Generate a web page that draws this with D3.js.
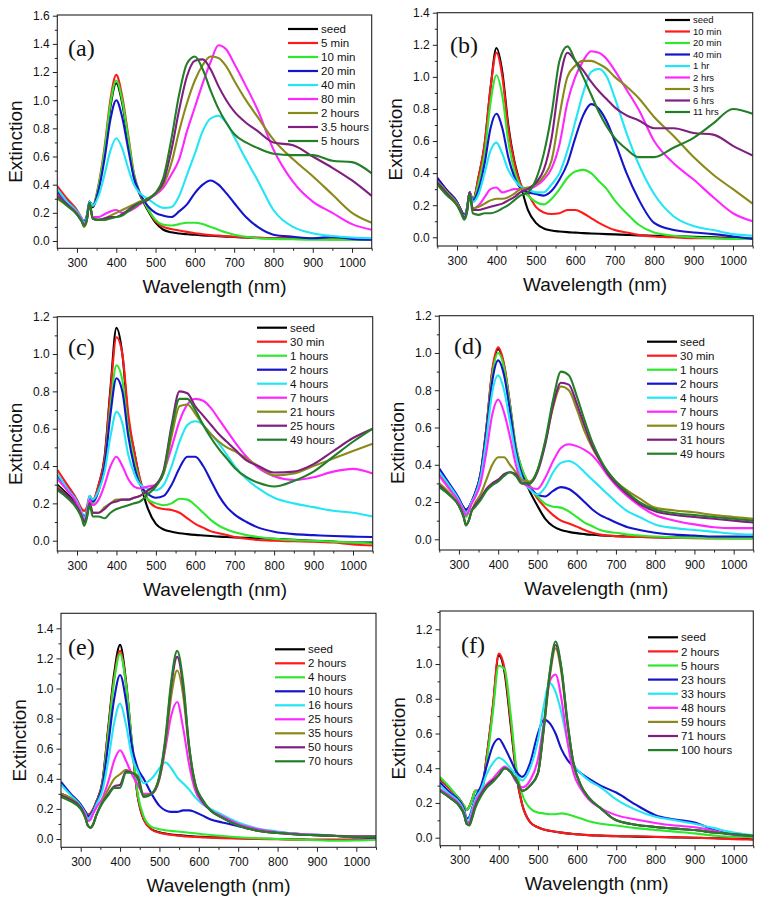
<!DOCTYPE html>
<html><head><meta charset="utf-8">
<script src="https://cdn.jsdelivr.net/npm/d3@7"></script>
<style>body{margin:0;background:#fff}</style>
</head><body>
<svg id="chart" width="761" height="900"></svg>
<script>
// ---------- shared axes data ----------
const gridA = [250,275,300,312,318,325,332,340, 355,370,385,400,415,430,445,460,480, 500,520,540,560,580,600,620,640,660,680, 700,730,760,800,850,900,950,1000,1050];
const gridB = [250,275,300,312,318,325,332,340, 355,370,385,400,415,430,445,460,480, 500,515,530,545,560,575,590,610,630,660, 700,750,800,850,900,950,1000,1050];
const xTicks = [300,400,500,600,700,800,900,1000];
const xMinor = [250,350,450,550,650,750,850,950,1050];
const colors = ["#000000","#ff1a1a","#2ee82e","#1414cc","#22e6f5","#ff26ff","#8a8a1a","#7f1f7f","#227f27"];

// ---------- panel (a) ----------
const aLabels = ["seed","5 min","10 min","20 min","40 min","80 min","2 hours","3.5 hours","5 hours"];
const aYTicks = [0,0.2,0.4,0.6,0.8,1.0,1.2,1.4,1.6];
const a_seed = [.34,.27,.2,.15,.12,.16,.27,.24, .38,.62,.95,1.12,.98,.72,.45,.33,.22, .13,.08,.062,.053,.048,.044,.04,.037,.034,.031, .028,.025,.022,.02,.018,.015,.013,.012,.01];
const a_5min = [.39,.3,.22,.16,.13,.17,.28,.25, .4,.66,1.0,1.18,1.03,.76,.48,.34,.23, .14,.1,.085,.075,.065,.055,.048,.042,.038,.034, .03,.026,.023,.02,.018,.016,.014,.012,.01];
const a_10min = [.36,.28,.21,.15,.12,.16,.28,.25, .39,.64,.97,1.14,1.0,.74,.47,.34,.23, .15,.115,.11,.12,.13,.13,.12,.1,.08,.06, .045,.03,.02,.015,.012,.01,.01,.01,.01];
const a_20min = [.36,.28,.21,.16,.14,.18,.28,.25, .36,.58,.86,1.0,.88,.66,.45,.34,.25, .2,.18,.17,.21,.26,.34,.4,.43,.4,.34, .27,.17,.1,.045,.03,.02,.028,.015,.01];
const a_40min = [.37,.28,.21,.16,.13,.17,.28,.25, .32,.47,.64,.73,.66,.52,.4,.34,.3, .26,.235,.24,.32,.47,.62,.78,.87,.89,.84, .74,.58,.43,.22,.1,.055,.035,.025,.02];
const a_80min = [.33,.26,.2,.15,.12,.15,.27,.17, .17,.19,.21,.22,.2,.21,.23,.26,.3, .33,.38,.47,.58,.78,.95,1.12,1.27,1.39,1.36, 1.26,1.1,.93,.65,.42,.28,.2,.12,.08];
const a_2h = [.3,.25,.19,.14,.1,.14,.27,.16, .15,.16,.18,.2,.22,.24,.26,.28,.3, .34,.4,.55,.78,.98,1.14,1.25,1.31,1.3,1.24, 1.14,1.0,.88,.72,.58,.46,.33,.2,.13];
const a_3_5h = [.32,.26,.19,.14,.11,.15,.27,.16, .15,.16,.17,.17,.19,.22,.25,.27,.29, .34,.42,.64,.93,1.17,1.28,1.29,1.22,1.1,1.0, .92,.84,.78,.7,.68,.6,.52,.43,.32];
const a_5h = [.31,.25,.19,.14,.11,.15,.27,.16, .15,.15,.16,.17,.18,.21,.24,.27,.3, .34,.45,.72,1.04,1.26,1.31,1.22,1.07,.94,.84, .76,.7,.66,.62,.61,.61,.57,.56,.48];

// ---------- panel (b) ----------
const bLabels = ["seed","10 min","20 min","40 min","1 hr","2 hrs","3 hrs","6 hrs","11 hrs"];
const bYTicks = [0,0.2,0.4,0.6,0.8,1.0,1.2,1.4];
const b_seed = [.36,.29,.22,.16,.13,.17,.28,.23, .38,.58,.93,1.18,1.03,.7,.48,.34,.17, .09,.055,.042,.036,.032,.029,.026,.024,.022,.02, .018,.015,.012,.01,.006,.003,0,-.004,-.008];
const b_10min = [.37,.29,.22,.16,.13,.17,.28,.23, .38,.58,.93,1.15,1.0,.68,.47,.34,.27, .19,.155,.145,.15,.17,.17,.15,.12,.09,.065, .045,.03,.015,.005,0,-.005,-.005,-.01,-.01];
const b_20min = [.36,.28,.21,.16,.13,.17,.28,.23, .34,.52,.84,1.01,.88,.6,.42,.32,.26, .22,.205,.24,.3,.37,.41,.42,.4,.35,.3, .23,.15,.08,.03,.01,0,-.005,-.01,-.01];
const b_40min = [.37,.29,.22,.16,.14,.18,.28,.23, .3,.46,.68,.77,.68,.5,.38,.31,.28, .27,.26,.29,.36,.46,.62,.76,.83,.8,.72, .6,.4,.24,.09,.045,.03,.02,.005,-.01];
const b_1hr = [.35,.28,.21,.15,.13,.17,.28,.22, .27,.4,.54,.59,.52,.42,.36,.32,.3, .28,.28,.33,.4,.54,.72,.9,1.03,1.05,1.0, .87,.65,.46,.27,.13,.07,.045,.02,.01];
const b_2hrs = [.34,.27,.21,.15,.12,.16,.28,.18, .2,.25,.3,.31,.28,.29,.3,.3,.3, .32,.36,.43,.58,.84,1.0,1.1,1.16,1.15,1.11, 1.04,.92,.8,.6,.46,.36,.25,.15,.1];
const b_3hrs = [.35,.28,.21,.15,.12,.16,.28,.18, .19,.21,.23,.24,.24,.25,.27,.3,.31, .33,.38,.48,.76,1.0,1.07,1.1,1.1,1.08,1.05, 1.0,.94,.87,.75,.63,.5,.39,.3,.21];
const b_6hrs = [.34,.27,.2,.15,.12,.16,.28,.17, .17,.18,.19,.2,.21,.23,.25,.28,.3, .34,.42,.62,.97,1.15,1.1,1.04,.97,.91,.86, .81,.76,.73,.68,.68,.65,.64,.57,.51];
const b_11hrs = [.33,.26,.2,.14,.11,.15,.27,.15, .14,.15,.15,.16,.18,.2,.23,.26,.28, .36,.52,.77,1.1,1.19,1.1,1.0,.89,.78,.69, .62,.55,.5,.5,.56,.62,.71,.8,.77];

// ---------- panel (c) ----------
const cLabels = ["seed","30 min","1 hours","2 hours","4 hours","7 hours","21 hours","25 hours","49 hours"];
const cYTicks = [0,0.2,0.4,0.6,0.8,1.0,1.2];
const c_seed = [.3,.25,.19,.14,.12,.15,.22,.21, .3,.45,.82,1.14,1.0,.65,.48,.32,.17, .09,.06,.048,.04,.035,.031,.028,.025,.022,.02, .018,.015,.013,.01,.005,0,-.005,-.01,-.01];
const c_30min = [.38,.3,.22,.17,.16,.18,.24,.22, .3,.44,.8,1.09,1.0,.68,.48,.33,.22, .18,.17,.165,.15,.12,.09,.07,.05,.04,.03, .02,.01,.004,0,-.003,-.005,-.01,-.02,-.025];
const c_1h = [.28,.24,.18,.13,.1,.14,.22,.2, .27,.4,.72,.94,.86,.6,.43,.31,.22, .2,.19,.2,.225,.22,.19,.15,.11,.08,.06, .045,.03,.02,.01,.003,0,-.005,-.01,-.015];
const c_2h = [.35,.28,.21,.15,.13,.16,.23,.21, .27,.4,.68,.87,.8,.56,.4,.3,.25, .23,.24,.3,.39,.45,.45,.4,.32,.24,.18, .14,.1,.07,.048,.035,.03,.025,.022,.02];
const c_4h = [.36,.28,.21,.15,.12,.16,.24,.22, .27,.37,.56,.69,.63,.46,.36,.3,.28, .27,.3,.4,.53,.62,.64,.62,.57,.52,.46, .4,.33,.28,.23,.2,.18,.16,.15,.13];
const c_7h = [.33,.27,.2,.14,.11,.14,.22,.19, .22,.3,.4,.45,.4,.33,.29,.28,.29, .3,.37,.5,.64,.73,.76,.75,.71,.65,.59, .53,.45,.39,.345,.325,.34,.37,.385,.36];
const c_21h = [.29,.24,.18,.13,.1,.13,.2,.15, .15,.18,.2,.22,.22,.22,.23,.24,.27, .3,.36,.56,.72,.73,.68,.62,.57,.53,.5, .48,.44,.4,.35,.36,.4,.44,.48,.52];
const c_25h = [.28,.24,.18,.13,.1,.13,.2,.15, .15,.17,.2,.21,.22,.22,.23,.24,.27, .3,.38,.62,.8,.79,.72,.67,.62,.57,.53, .49,.43,.4,.365,.37,.41,.48,.55,.6];
const c_49h = [.27,.23,.17,.12,.08,.12,.19,.13, .13,.12,.15,.17,.18,.19,.2,.21,.25, .29,.37,.6,.76,.76,.7,.62,.55,.49,.44, .39,.34,.31,.29,.32,.37,.45,.53,.6];

// ---------- panel (d) ----------
const dLabels = ["seed","30 min","1 hours","2 hours","4 hours","7 hours","19 hours","31 hours","49 hours"];
const dYTicks = [0,0.2,0.4,0.6,0.8,1.0,1.2];
const d_seed = [.35,.28,.21,.17,.15,.17,.2,.24, .35,.6,.9,1.02,.93,.72,.48,.36,.26, .18,.11,.07,.05,.04,.033,.028,.024,.021,.019, .017,.015,.013,.011,.01,.01,.01,.01,.01];
const d_30min = [.35,.28,.21,.17,.15,.17,.2,.24, .35,.6,.91,1.03,.94,.73,.5,.38,.29, .22,.17,.13,.1,.085,.068,.05,.035,.025,.02, .017,.014,.012,.01,.008,.006,.005,.005,.005];
const d_1h = [.28,.24,.19,.15,.12,.15,.19,.23, .34,.58,.88,1.0,.92,.72,.5,.38,.29, .23,.19,.175,.17,.15,.12,.09,.07,.05,.04, .035,.025,.02,.015,.01,.008,.006,.005,.005];
const d_2h = [.38,.3,.22,.17,.16,.17,.2,.24, .35,.58,.85,.96,.88,.69,.48,.35,.28, .24,.23,.26,.28,.27,.24,.2,.16,.13,.11, .09,.065,.05,.035,.025,.02,.015,.015,.015];
const d_4h = [.36,.29,.21,.16,.14,.16,.2,.23, .33,.54,.79,.88,.8,.63,.45,.33,.27, .24,.28,.36,.41,.42,.4,.36,.32,.28,.24, .2,.15,.12,.08,.06,.05,.04,.03,.025];
const d_7h = [.34,.27,.2,.15,.13,.15,.19,.22, .3,.47,.67,.75,.68,.55,.4,.31,.28, .27,.33,.42,.49,.51,.5,.48,.45,.4,.34, .29,.23,.18,.13,.1,.08,.065,.06,.06];
const d_19h = [.3,.25,.18,.12,.08,.1,.15,.19, .24,.32,.4,.44,.44,.4,.36,.32,.31, .37,.52,.71,.82,.8,.7,.58,.49,.42,.36, .31,.26,.22,.17,.155,.145,.13,.12,.11];
const d_31h = [.29,.24,.18,.12,.075,.1,.15,.18, .22,.27,.3,.32,.35,.36,.35,.3,.3, .36,.51,.72,.84,.83,.73,.61,.5,.42,.35, .3,.24,.19,.15,.13,.12,.11,.1,.09];
const d_49h = [.28,.24,.18,.12,.075,.1,.15,.17, .21,.26,.29,.31,.34,.36,.34,.3,.3, .37,.53,.75,.9,.88,.77,.64,.52,.43,.36, .31,.25,.2,.16,.14,.13,.12,.11,.1];

// ---------- panel (e) ----------
const eLabels = ["seed","2 hours","4 hours","10 hours","16 hours","25 hours","35 hours","50 hours","70 hours"];
const eYTicks = [0,0.2,0.4,0.6,0.8,1.0,1.2,1.4];
const e_seed = [.3,.27,.22,.18,.16,.17,.2,.25, .38,.74,1.1,1.29,1.05,.64,.28,.13,.065, .045,.036,.03,.026,.023,.02,.017,.014,.012,.01, .006,.002,0,-.003,-.005,-.005,-.005,0];
const e_2h = [.3,.27,.22,.18,.16,.17,.2,.25, .37,.72,1.07,1.25,1.03,.63,.28,.13,.063, .042,.034,.028,.023,.019,.016,.013,.011,.009,.006, .003,0,-.002,-.004,-.005,-.005,-.005,0];
const e_4h = [.28,.25,.21,.17,.15,.16,.19,.24, .36,.7,1.05,1.23,1.03,.65,.3,.15,.08, .065,.058,.054,.05,.046,.042,.038,.032,.027,.02, .012,.005,0,-.005,-.008,-.012,-.01,-.005];
const e_10h = [.38,.3,.23,.18,.15,.16,.19,.24, .35,.63,.93,1.09,.92,.62,.47,.4,.3, .22,.19,.18,.18,.19,.19,.18,.155,.13,.11, .085,.06,.045,.035,.025,.02,.01,.01];
const e_16h = [.36,.29,.22,.17,.13,.15,.18,.23, .32,.52,.77,.9,.76,.55,.45,.37,.4, .47,.51,.47,.41,.37,.33,.28,.23,.2,.16, .11,.07,.05,.035,.03,.02,.015,.02];
const e_25h = [.29,.26,.21,.16,.12,.13,.17,.21, .27,.38,.52,.59,.52,.43,.36,.3,.3, .4,.6,.82,.91,.74,.5,.33,.24,.19,.15, .1,.065,.045,.035,.028,.022,.02,.02];
const e_35h = [.3,.27,.21,.14,.09,.075,.1,.16, .25,.33,.4,.43,.46,.44,.42,.29,.3, .4,.62,.95,1.12,.96,.6,.36,.25,.19,.14, .09,.055,.04,.03,.025,.02,.015,.015];
const e_50h = [.29,.26,.21,.14,.09,.075,.1,.16, .24,.3,.35,.36,.45,.44,.41,.28,.3, .41,.65,1.02,1.21,1.02,.62,.37,.25,.19,.14, .09,.055,.04,.03,.025,.02,.015,.015];
const e_70h = [.28,.25,.2,.14,.09,.075,.1,.16, .24,.29,.34,.34,.44,.44,.4,.28,.3, .42,.67,1.05,1.25,1.05,.63,.38,.26,.19,.14, .09,.055,.04,.03,.025,.02,.015,.015];

// ---------- panel (f) ----------
const fLabels = ["seed","2 hours","5 hours","23 hours","33 hours","48 hours","59 hours","71 hours","100 hours"];
const fYTicks = [0,0.2,0.4,0.6,0.8,1.0,1.2];
const f_seed = [.34,.28,.22,.18,.16,.18,.22,.27, .27,.48,.75,1.05,.95,.66,.36,.19,.09, .06,.047,.04,.034,.029,.025,.021,.018,.015,.012, .008,.006,.004,.002,0,-.003,-.005,-.01];
const f_2h = [.34,.28,.22,.18,.16,.18,.22,.27, .27,.48,.76,1.06,.97,.68,.37,.19,.09, .06,.047,.04,.034,.029,.025,.021,.018,.015,.012, .01,.008,.005,.003,0,-.003,-.008,-.01];
const f_5h = [.35,.29,.22,.18,.16,.18,.22,.27, .26,.45,.72,.99,.97,.72,.4,.25,.17, .145,.14,.135,.135,.14,.135,.125,.11,.095,.08, .07,.055,.045,.035,.025,.012,.005,.005];
const f_23h = [.32,.26,.21,.16,.11,.12,.17,.23, .3,.42,.53,.57,.52,.45,.38,.35,.43, .6,.68,.66,.6,.51,.45,.41,.37,.34,.3, .26,.19,.13,.105,.088,.045,.02,.015];
const f_33h = [.3,.25,.2,.15,.1,.11,.16,.22, .28,.37,.43,.46,.44,.4,.36,.33,.4, .56,.76,.89,.84,.72,.56,.43,.37,.33,.29, .22,.16,.12,.1,.08,.055,.03,.015];
const f_48h = [.28,.24,.19,.14,.09,.09,.14,.2, .26,.31,.34,.38,.41,.38,.32,.29,.33, .45,.66,.9,.94,.8,.56,.38,.28,.22,.17, .13,.105,.085,.07,.06,.04,.015,.01];
const f_59h = [.27,.23,.18,.13,.08,.075,.12,.18, .25,.3,.33,.36,.4,.38,.33,.27,.3, .37,.62,.92,1.09,.95,.66,.43,.3,.23,.17, .1,.075,.062,.052,.044,.03,.02,.01];
const f_71h = [.27,.23,.18,.13,.08,.075,.12,.18, .25,.3,.33,.36,.4,.38,.33,.27,.3, .37,.63,.94,1.11,.97,.67,.44,.3,.23,.17, .1,.075,.062,.052,.044,.03,.02,.01];
const f_100h = [.27,.23,.18,.13,.08,.07,.11,.17, .24,.29,.32,.36,.4,.38,.33,.27,.3, .37,.64,.95,1.13,.98,.68,.44,.3,.23,.17, .1,.075,.062,.052,.044,.03,.02,.01];

// ---------- layout ----------
const panels = [
  {id:"a", grid:gridA, labels:aLabels, ticks:aYTicks, series:[a_seed,a_5min,a_10min,a_20min,a_40min,a_80min,a_2h,a_3_5h,a_5h],
   l:57.3, r:371.7, t:15, b:248.3, zero:241, top:15.7, topVal:1.6, tag:[68,56], leg:{x:288,y:29,dy:14,fs:11.5,len:30}},
  {id:"b", grid:gridA, labels:bLabels, ticks:bYTicks, series:[b_seed,b_10min,b_20min,b_40min,b_1hr,b_2hrs,b_3hrs,b_6hrs,b_11hrs],
   l:437.3, r:752.7, t:12.7, b:246, zero:237.3, top:12.7, topVal:1.4, tag:[450,53], leg:{x:665,y:20,dy:11.5,fs:9.5,len:25}},
  {id:"c", grid:gridA, labels:cLabels, ticks:cYTicks, series:[c_seed,c_30min,c_1h,c_2h,c_4h,c_7h,c_21h,c_25h,c_49h],
   l:57.3, r:372.7, t:316.7, b:551, zero:540.7, top:316.7, topVal:1.2, tag:[68,355], leg:{x:257,y:327.7,dy:14,fs:11.5,len:30}},
  {id:"d", grid:gridA, labels:dLabels, ticks:dYTicks, series:[d_seed,d_30min,d_1h,d_2h,d_4h,d_7h,d_19h,d_31h,d_49h],
   l:439.3, r:753.3, t:315.7, b:550, zero:539.3, top:315.7, topVal:1.2, tag:[454,354], leg:{x:647,y:341.7,dy:14,fs:11.5,len:30}},
  {id:"e", grid:gridB, labels:eLabels, ticks:eYTicks, series:[e_seed,e_2h,e_4h,e_10h,e_16h,e_25h,e_35h,e_50h,e_70h],
   l:61, r:376, t:613.3, b:847.3, zero:839, top:628.3, topVal:1.4, tag:[68,655], leg:{x:275,y:649.3,dy:14,fs:11.5,len:30}},
  {id:"f", grid:gridB, labels:fLabels, ticks:fYTicks, series:[f_seed,f_2h,f_5h,f_23h,f_33h,f_48h,f_59h,f_71h,f_100h],
   l:440, r:753.3, t:611, b:845.7, zero:837.7, top:629.3, topVal:1.2, tag:[461,653], leg:{x:648,y:637.3,dy:14.1,fs:11.5,len:30}}
];

const SANS = "'Liberation Sans', Arial, Helvetica, sans-serif";
const svg = d3.select("#chart");
const defs = svg.append("defs");

panels.forEach(p => {
  const x = d3.scaleLinear().domain([250,1050]).range([p.l, p.r]);
  const y = d3.scaleLinear().domain([0, p.topVal]).range([p.zero, p.top]);
  const yTopVal = y.invert(p.t);
  const g = svg.append("g");

  defs.append("clipPath").attr("id","clip"+p.id).append("rect")
    .attr("x",p.l).attr("y",p.t).attr("width",p.r-p.l).attr("height",p.b-p.t);

  // curves
  const line = d3.line().x(d=>x(d[0])).y(d=>y(d[1])).curve(d3.curveMonotoneX);
  const cg = g.append("g").attr("clip-path",`url(#clip${p.id})`);
  p.series.forEach((s,k) => {
    const pts = p.grid.map((w,j)=>[w, s[j]]).filter(d=>d[1]!==undefined);
    cg.append("path").attr("d", line(pts)).attr("fill","none")
      .attr("stroke", colors[k]).attr("stroke-width",2.1).attr("stroke-linejoin","round");
  });

  // x axis
  const gx = g.append("g").attr("transform",`translate(0,${p.b})`)
    .call(d3.axisBottom(x).tickValues(xTicks).tickFormat(d3.format("d")).tickSize(4.5).tickSizeOuter(0).tickPadding(5.5));
  g.append("g").attr("transform",`translate(0,${p.b})`)
    .call(d3.axisBottom(x).tickValues(xMinor).tickSize(2.5).tickSizeOuter(0).tickFormat(""));
  // y axis
  const gy = g.append("g").attr("transform",`translate(${p.l},0)`)
    .call(d3.axisLeft(y).tickValues(p.ticks).tickFormat(d3.format(".1f")).tickSize(4.5).tickSizeOuter(0).tickPadding(3));
  const yMinor = p.ticks.slice(0,-1).map(v=>v+0.1);
  if (p.ticks[p.ticks.length-1] + 0.1 < yTopVal - 0.005) yMinor.push(p.ticks[p.ticks.length-1]+0.1);
  g.append("g").attr("transform",`translate(${p.l},0)`)
    .call(d3.axisLeft(y).tickValues(yMinor).tickSize(2.5).tickSizeOuter(0).tickFormat(""));
  [gx, gy].forEach(a => a.attr("font-size",12).attr("font-family",SANS).selectAll("text").attr("fill","#111"));
  g.selectAll(".domain").attr("stroke","none");
  g.selectAll(".tick line").attr("stroke","#222").attr("stroke-width",1);

  // frame
  g.append("rect").attr("x",p.l).attr("y",p.t).attr("width",p.r-p.l).attr("height",p.b-p.t)
    .attr("fill","none").attr("stroke","#222").attr("stroke-width",1.1);

  // titles
  g.append("text").attr("x",(p.l+p.r)/2).attr("y",p.b+44.5).attr("text-anchor","middle")
    .attr("font-family",SANS).attr("font-size",19).attr("fill","#111").text("Wavelength (nm)");
  g.append("text").attr("transform",`translate(${p.l-42},${(p.t+p.b)/2+10}) rotate(-90)`)
    .attr("text-anchor","middle").attr("dy","0.35em")
    .attr("font-family",SANS).attr("font-size",19).attr("fill","#111").text("Extinction");
  g.append("text").attr("x",p.tag[0]).attr("y",p.tag[1])
    .attr("font-family","'Liberation Serif', 'Times New Roman', serif").attr("font-size",24).attr("fill","#111")
    .text(`(${p.id})`);

  // legend
  const L = p.leg;
  p.labels.forEach((lab,k) => {
    const yy = L.y + k*L.dy;
    g.append("line").attr("x1",L.x).attr("x2",L.x+L.len).attr("y1",yy).attr("y2",yy)
      .attr("stroke",colors[k]).attr("stroke-width",2.2);
    g.append("text").attr("x",L.x+L.len+3).attr("y",yy).attr("dy","0.36em")
      .attr("font-family",SANS).attr("font-size",L.fs).attr("fill","#111").text(lab);
  });
});
</script>
</body></html>
